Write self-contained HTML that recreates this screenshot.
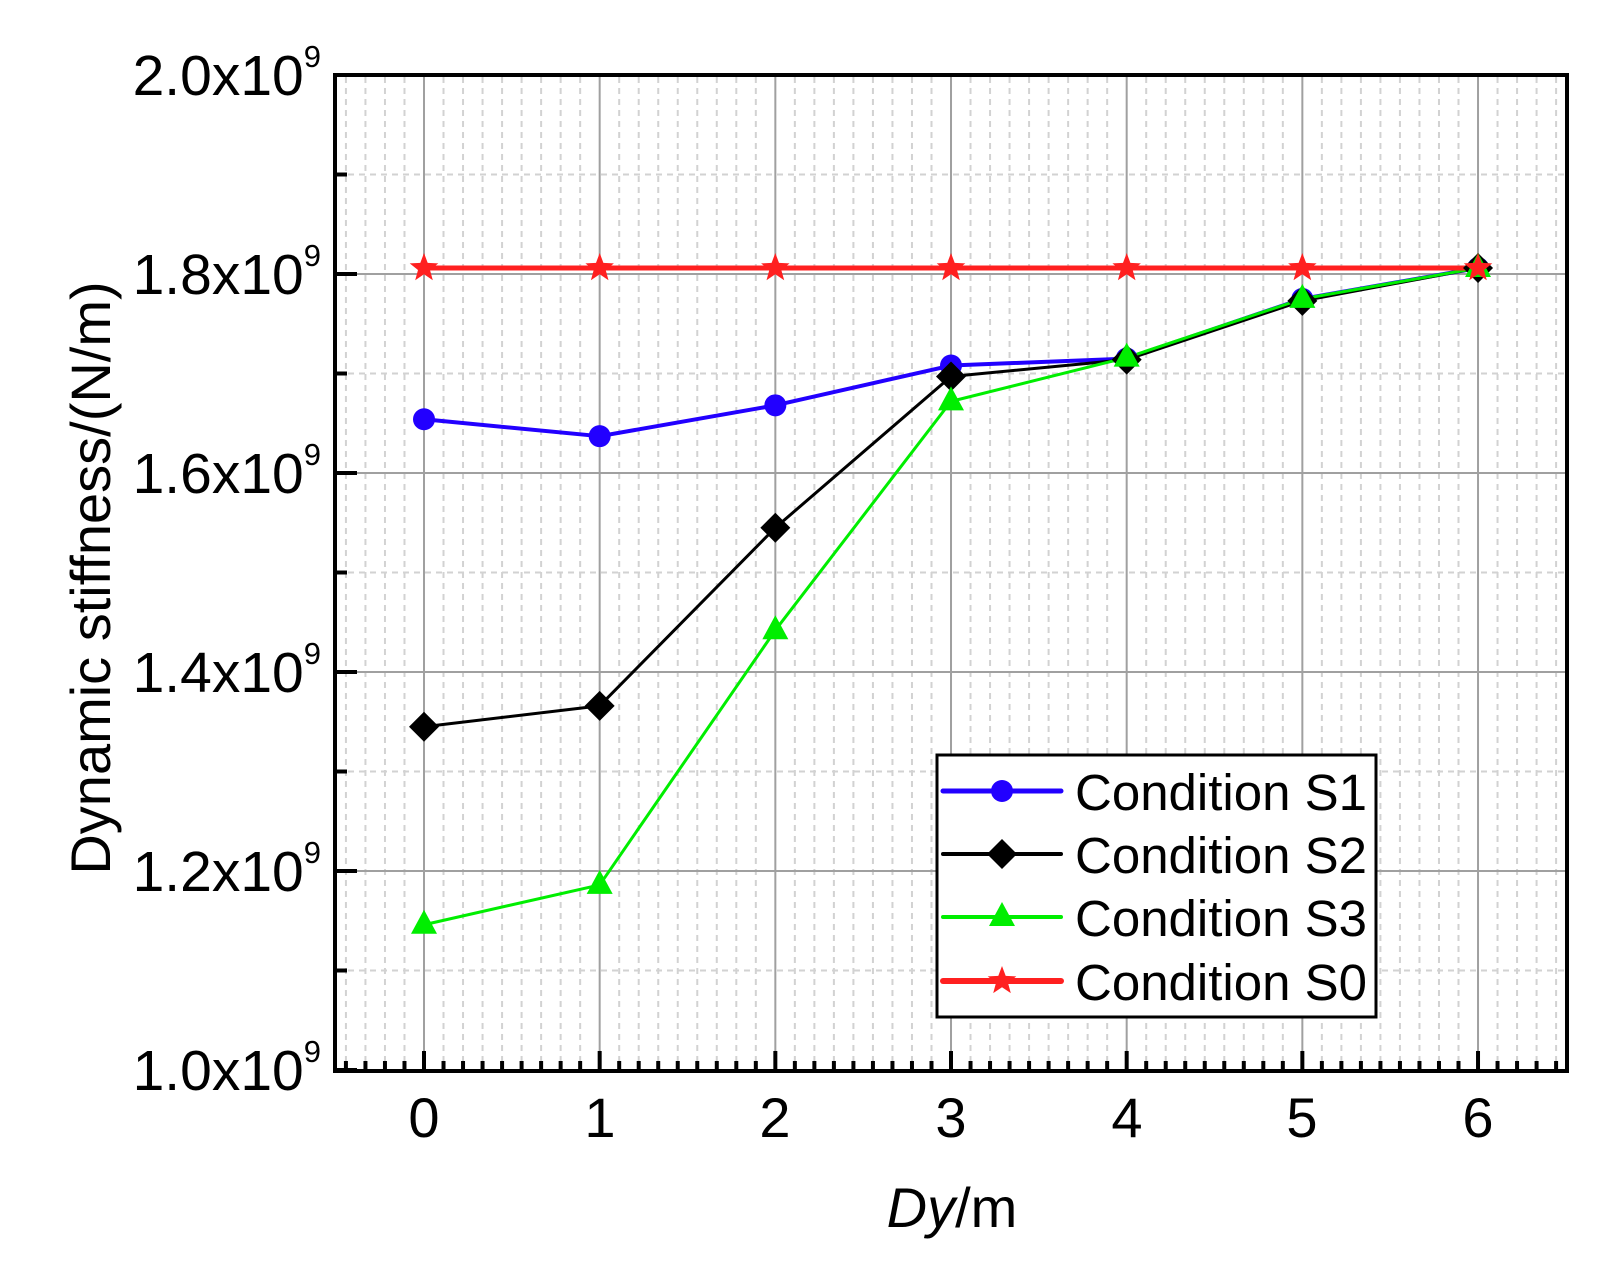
<!DOCTYPE html>
<html><head><meta charset="utf-8"><style>
html,body{margin:0;padding:0;background:#fff;}
svg{display:block;font-family:"Liberation Sans",Arial,sans-serif;}
</style></head><body>
<svg id="s" width="1599" height="1275" viewBox="0 0 1599 1275" xmlns="http://www.w3.org/2000/svg">
<rect width="1599" height="1275" fill="#fff"/>
<g id="grid"></g>
<g id="series"></g>
<rect x="335" y="75" width="1232" height="996" fill="none" stroke="#000" stroke-width="4"/>
<g id="ticks"></g>
<g font-size="57" text-anchor="end" fill="#000">
<text x="321" y="95">2.0x10<tspan font-size="31" dy="-28">9</tspan></text>
<text x="321" y="294">1.8x10<tspan font-size="31" dy="-28">9</tspan></text>
<text x="321" y="493">1.6x10<tspan font-size="31" dy="-28">9</tspan></text>
<text x="321" y="692">1.4x10<tspan font-size="31" dy="-28">9</tspan></text>
<text x="321" y="891">1.2x10<tspan font-size="31" dy="-28">9</tspan></text>
<text x="321" y="1090">1.0x10<tspan font-size="31" dy="-28">9</tspan></text>
</g>
<g font-size="56" text-anchor="middle" fill="#000">
<text x="424" y="1137">0</text><text x="600" y="1137">1</text><text x="775" y="1137">2</text>
<text x="951" y="1137">3</text><text x="1127" y="1137">4</text><text x="1302" y="1137">5</text>
<text x="1478" y="1137">6</text>
<text x="952" y="1227"><tspan font-style="italic">Dy</tspan>/m</text>
<text transform="translate(110,578) rotate(-90)">Dynamic stiffness/(N/m)</text>
</g>
<g id="legend">
<rect x="937" y="755" width="439" height="262" fill="#fff" stroke="#000" stroke-width="3"/>
<g font-size="51" fill="#000">
<text x="1075" y="810">Condition S1</text>
<text x="1075" y="873">Condition S2</text>
<text x="1075" y="936">Condition S3</text>
<text x="1075" y="1000">Condition S0</text>
</g>
</g>
</svg>
<script>
var NS="http://www.w3.org/2000/svg";
function el(p,t,a){var e=document.createElementNS(NS,t);for(var k in a)e.setAttribute(k,a[k]);p.appendChild(e);return e;}
var X=function(v){return 424+v*175.67;}, Y=function(v){return 75+(2.0-v)*995;};
var g=document.getElementById('grid'),tk=document.getElementById('ticks'),sr=document.getElementById('series'),lg=document.getElementById('legend');
for(var k=-4;k<=58;k++){var x=X(k/9);if(x<337||x>1565)continue;
 if(k%9==0){el(g,'line',{x1:x,y1:77,x2:x,y2:1069,stroke:'#a0a0a0','stroke-width':2});el(tk,'line',{x1:x,y1:1071,x2:x,y2:1051,stroke:'#000','stroke-width':4});}
 else{el(g,'line',{x1:x,y1:77,x2:x,y2:1069,stroke:'#d2d2d2','stroke-width':2,'stroke-dasharray':'6 5'});el(tk,'line',{x1:x,y1:1071,x2:x,y2:1061,stroke:'#000','stroke-width':4});}}
for(var i=0;i<=10;i++){var v=1+i*0.1,y=Y(v);
 if(i%2==0){if(i>0&&i<10)el(g,'line',{x1:337,y1:y,x2:1565,y2:y,stroke:'#a0a0a0','stroke-width':2});el(tk,'line',{x1:335,y1:y,x2:357,y2:y,stroke:'#000','stroke-width':4});}
 else{el(g,'line',{x1:337,y1:y,x2:1565,y2:y,stroke:'#d2d2d2','stroke-width':2,'stroke-dasharray':'6 5'});el(tk,'line',{x1:335,y1:y,x2:347,y2:y,stroke:'#000','stroke-width':4});}}
function star(p,cx,cy,r,c){var pts=[];for(var j=0;j<10;j++){var a=-Math.PI/2+j*Math.PI/5,rr=j%2?r*0.42:r;pts.push((cx+rr*Math.cos(a)).toFixed(1)+','+(cy+rr*Math.sin(a)).toFixed(1));}el(p,'polygon',{points:pts.join(' '),fill:c});}
function mk(p,type,cx,cy,c){
 if(type=='c')el(p,'circle',{cx:cx,cy:cy,r:11,fill:c});
 else if(type=='d')el(p,'polygon',{points:(cx)+','+(cy-15)+' '+(cx+15)+','+cy+' '+cx+','+(cy+15)+' '+(cx-15)+','+cy,fill:c});
 else if(type=='t')el(p,'polygon',{points:cx+','+(cy-15)+' '+(cx+13)+','+(cy+9)+' '+(cx-13)+','+(cy+9),fill:c});
 else star(p,cx,cy,15,c);}
var S=[
 {c:'#2200ff',m:'c',w:4,d:[1.654,1.637,1.668,1.708,1.715,1.775,1.806]},
 {c:'#000000',m:'d',w:3,d:[1.345,1.366,1.545,1.697,1.714,1.773,1.806]},
 {c:'#00ee00',m:'t',w:3,d:[1.146,1.186,1.442,1.672,1.716,1.775,1.806]},
 {c:'#ff2020',m:'s',w:5,d:[1.806,1.806,1.806,1.806,1.806,1.806,1.806]}];
S.forEach(function(s){var pts=s.d.map(function(v,i){return X(i)+','+Y(v);}).join(' ');
 el(sr,'polyline',{points:pts,fill:'none',stroke:s.c,'stroke-width':s.w,'stroke-linejoin':'round'});});
S.forEach(function(s){s.d.forEach(function(v,i){mk(sr,s.m,X(i),Y(v),s.c);});});
var ly=[791,854,917,981];
S.forEach(function(s,i){el(lg,'line',{x1:943,y1:ly[i],x2:1061,y2:ly[i],stroke:s.c,'stroke-width':s.w+1,'stroke-linecap':'round'});mk(lg,s.m,1002,ly[i],s.c);});
</script>
</body></html>
